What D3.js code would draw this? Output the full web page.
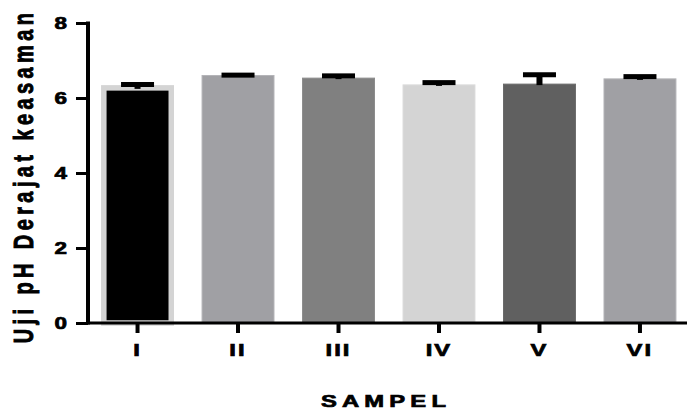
<!DOCTYPE html>
<html>
<head>
<meta charset="utf-8">
<script src="https://cdn.jsdelivr.net/npm/d3@7"></script>
<style>
  html, body { margin: 0; padding: 0; background: #fff; }
  svg { display: block; }
  text { font-family: "Liberation Sans", Arial, sans-serif; font-weight: bold; fill: #000; stroke: #000; stroke-width: 0.7px; }
</style>
</head>
<body>
<svg id="chart" width="687" height="410"></svg>
<script>
// ---- data ----
const categories = ["I", "II", "III", "IV", "V", "VI"];
const values = [6.27, 6.60, 6.53, 6.35, 6.37, 6.51];
const errors = [0.09, 0.01, 0.06, 0.06, 0.25, 0.06];
const yTicks = [0, 2, 4, 6, 8];
const yTitle = "Uji pH Derajat keasaman";
const xTitle = "SAMPEL";

// ---- styles ----
const fills = ["#000000", "#a0a0a4", "#808080", "#d4d4d4", "#606060", "#a0a0a4"];
const borders = ["#d4d4d4", "#b4b4b8", "#8c8c8c", "#dcdcdc", "#6a6a6a", "#b4b4b8"];
const borderW = [5.5, 1, 1, 1, 1, 1];
const SX = 1.4; // horizontal stretch of the original picture

const svg = d3.select("#chart");
const mLeft = 88, mRight = 689.5, mTop = 23, mBottom = 323;

const x = d3.scaleBand().domain(categories).range([mLeft, mRight])
  .paddingInner(0.274).paddingOuter(0.13);
const y = d3.scaleLinear().domain([0, 8]).range([mBottom, mTop]);

// bars
svg.append("g").selectAll("rect").data(categories).join("rect")
  .attr("x", (d, i) => x(d) + borderW[i] / 2)
  .attr("width", (d, i) => x.bandwidth() - borderW[i])
  .attr("y", (d, i) => y(values[i]))
  .attr("height", (d, i) => y(0) - y(values[i]))
  .attr("fill", (d, i) => fills[i])
  .attr("stroke", (d, i) => borders[i])
  .attr("stroke-width", (d, i) => borderW[i]);

// error bars (upper only)
const capW = 33, capH = 5, stemW = 6;
const eb = svg.append("g").selectAll("g").data(categories).join("g");
eb.append("rect")
  .attr("x", d => x(d) + x.bandwidth() / 2 - stemW / 2)
  .attr("width", stemW)
  .attr("y", (d, i) => y(values[i] + errors[i]))
  .attr("height", (d, i) => y(values[i]) - y(values[i] + errors[i]) + 1)
  .attr("fill", "#000");
eb.append("rect")
  .attr("x", d => x(d) + x.bandwidth() / 2 - capW / 2)
  .attr("width", capW)
  .attr("y", (d, i) => y(values[i] + errors[i]) - capH / 2)
  .attr("height", capH)
  .attr("fill", "#000");

// y axis
const gy = svg.append("g").attr("transform", `translate(${mLeft},0)`)
  .call(d3.axisLeft(y).tickValues(yTicks).tickSize(12).tickSizeOuter(0).tickFormat(d3.format("d")));
gy.select(".domain").attr("stroke", "#000").attr("stroke-width", 4)
  .attr("d", `M0,${mTop - 1.5}V${mBottom + 1.5}`);
gy.selectAll(".tick line").attr("stroke", "#000").attr("stroke-width", 3);
gy.selectAll(".tick text")
  .attr("x", 0).attr("dy", "0.36em")
  .attr("transform", `translate(-21,0) scale(${SX},1)`)
  .style("font-size", "16px").attr("text-anchor", "end")
  .attr("font-family", null).attr("fill", "#000");

// x axis
const gx = svg.append("g").attr("transform", `translate(0,${mBottom})`)
  .call(d3.axisBottom(x).tickSize(10).tickSizeOuter(0));
gx.select(".domain").attr("stroke", "#000").attr("stroke-width", 3)
  .attr("d", `M${mLeft - 2},0H687`);
gx.selectAll(".tick line").attr("stroke", "#000").attr("stroke-width", 4);
gx.selectAll(".tick text")
  .attr("y", 0).attr("dy", null)
  .attr("transform", `translate(0,33) scale(${SX},1)`)
  .style("font-size", "17px").style("letter-spacing", "1.5px")
  .attr("font-family", null).attr("fill", "#000");

// axis titles
svg.append("text")
  .attr("transform", `translate(386,407) scale(${SX},1)`)
  .attr("text-anchor", "middle")
  .style("font-size", "17px").style("letter-spacing", "3.7px")
  .text(xTitle);

svg.append("text")
  .attr("transform", `translate(33,176) scale(${SX},1) rotate(-90)`)
  .attr("text-anchor", "middle")
  .style("font-size", "20px").style("letter-spacing", "4.4px")
  .text(yTitle);
</script>
</body>
</html>
